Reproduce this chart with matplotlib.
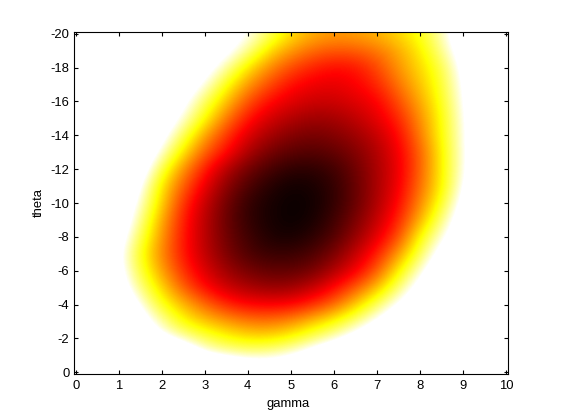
import numpy as np
import matplotlib
matplotlib.use("Agg")
import matplotlib.pyplot as plt

gamma_ticks = [0, 1, 2, 3, 4, 5, 6, 7, 8, 9, 10]
theta_ticks = [0, -2, -4, -6, -8, -10, -12, -14, -16, -18, -20]

# Colour-scale readings (hot scale, 0 = black, 1 = white, above 1 saturates)
# rows: theta 0 to -20 in steps of 1; columns: gamma 0 to 10 in steps of 0.5
theta_00 = [3.00,2.75,2.50,2.25,2.00,1.80,1.60,1.40,1.25,1.20,1.25,1.35,1.50,1.70,1.90,2.10,2.30,2.50,2.70,2.90,3.10]
theta_01 = [2.80,2.50,2.20,1.90,1.55,1.25,1.00,.95,.92,.94,1.00,1.12,1.28,1.45,1.65,1.85,2.05,2.25,2.45,2.65,2.85]
theta_02 = [2.15,1.85,1.55,1.25,1.03,.92,.83,.755,.71,.71,.76,.85,.94,1.08,1.25,1.45,1.65,1.85,2.05,2.25,2.45]
theta_03 = [2.00,1.70,1.40,1.10,.90,.74,.66,.60,.55,.54,.58,.66,.75,.87,1.02,1.20,1.40,1.60,1.80,2.00,2.20]
theta_04 = [1.85,1.55,1.25,.97,.77,.64,.52,.42,.37,.36,.37,.43,.52,.67,.84,1.02,1.20,1.40,1.60,1.80,2.00]
theta_05 = [1.75,1.45,1.10,.87,.68,.50,.375,.29,.24,.21,.22,.28,.375,.50,.65,.86,1.08,1.30,1.50,1.70,1.90]
theta_06 = [1.65,1.35,1.05,.80,.60,.43,.31,.22,.16,.13,.13,.16,.25,.35,.50,.73,.95,1.20,1.40,1.60,1.80]
theta_07 = [1.60,1.30,1.03,.76,.56,.39,.27,.17,.10,.07,.07,.10,.17,.28,.41,.60,.83,1.08,1.30,1.50,1.70]
theta_08 = [1.70,1.40,1.08,.82,.58,.39,.26,.15,.08,.03,.02,.05,.11,.21,.33,.48,.75,.96,1.20,1.45,1.65]
theta_09 = [1.80,1.50,1.15,.88,.61,.40,.26,.14,.06,.02,.00,.02,.08,.17,.28,.42,.63,.87,1.13,1.40,1.60]
theta_10 = [1.85,1.60,1.20,.94,.67,.43,.28,.15,.06,.02,.00,.01,.06,.14,.25,.375,.57,.78,1.06,1.35,1.60]
theta_11 = [1.95,1.65,1.30,1.00,.70,.50,.33,.19,.10,.04,.01,.02,.06,.14,.24,.35,.53,.73,1.00,1.30,1.55]
theta_12 = [2.00,1.70,1.40,1.10,.80,.57,.40,.25,.15,.09,.05,.05,.08,.15,.24,.34,.51,.73,.97,1.25,1.50]
theta_13 = [2.05,1.75,1.50,1.20,.94,.70,.50,.375,.24,.16,.12,.11,.13,.18,.25,.35,.51,.73,.97,1.25,1.50]
theta_14 = [2.10,1.85,1.55,1.30,1.05,.82,.60,.44,.31,.23,.18,.16,.18,.22,.28,.375,.55,.75,.97,1.25,1.50]
theta_15 = [2.15,1.90,1.60,1.35,1.15,.95,.74,.54,.39,.30,.25,.22,.23,.27,.33,.42,.58,.75,.98,1.25,1.50]
theta_16 = [2.20,1.95,1.65,1.40,1.22,1.04,.83,.65,.48,.375,.32,.29,.29,.32,.36,.48,.62,.77,1.00,1.25,1.50]
theta_17 = [2.25,2.00,1.70,1.45,1.30,1.13,.97,.75,.59,.47,.38,.34,.33,.36,.42,.54,.66,.79,1.02,1.25,1.50]
theta_18 = [2.30,2.05,1.75,1.50,1.35,1.20,1.08,.90,.70,.57,.47,.41,.375,.39,.47,.59,.69,.81,1.05,1.30,1.55]
theta_19 = [2.35,2.10,1.80,1.55,1.40,1.25,1.15,1.05,.88,.69,.59,.52,.49,.50,.54,.62,.72,.88,1.10,1.35,1.60]
theta_20 = [2.40,2.15,1.85,1.60,1.45,1.30,1.20,1.10,1.00,.84,.70,.63,.60,.61,.64,.69,.77,.92,1.17,1.40,1.65]

grid = np.array([theta_00, theta_01, theta_02, theta_03, theta_04, theta_05, theta_06,
                 theta_07, theta_08, theta_09, theta_10, theta_11, theta_12, theta_13,
                 theta_14, theta_15, theta_16, theta_17, theta_18, theta_19, theta_20])

plt.rcParams['font.family'] = ['Liberation Sans', 'DejaVu Sans']
W, H = 561, 420
fig = plt.figure(figsize=(W / 100, H / 100), dpi=100, facecolor='white')
L, R, T, B = 73.5, 508, 32, 374
ax = fig.add_axes([L / W, 1 - B / H, (R - L) / W, (B - T) / H])

ax.imshow(grid, cmap='hot', vmin=0, vmax=1, aspect='auto', origin='lower',
          extent=[-0.25, 10.25, 0.5, -20.5], interpolation='bicubic',
          interpolation_stage='data')
ax.set_xlim(-0.05, 10.05)
ax.set_ylim(0.1, -20.1)
ax.set_xticks(gamma_ticks)
ax.set_yticks(theta_ticks)
ax.set_yticklabels([str(t) for t in theta_ticks])
ax.tick_params(direction='in', top=True, right=True, length=3.1, width=0.8,
               labelsize=9.4, color='black', labelcolor='black')
ax.tick_params(axis='x', pad=4)
ax.tick_params(axis='y', pad=3)
for s in ax.spines.values():
    s.set_linewidth(0.8)
ax.set_xlabel('gamma', fontsize=9.4, labelpad=5, x=0.495)
ax.set_ylabel('theta', fontsize=9.4, labelpad=4)

fig.savefig('out.png', dpi=100, facecolor='white')
